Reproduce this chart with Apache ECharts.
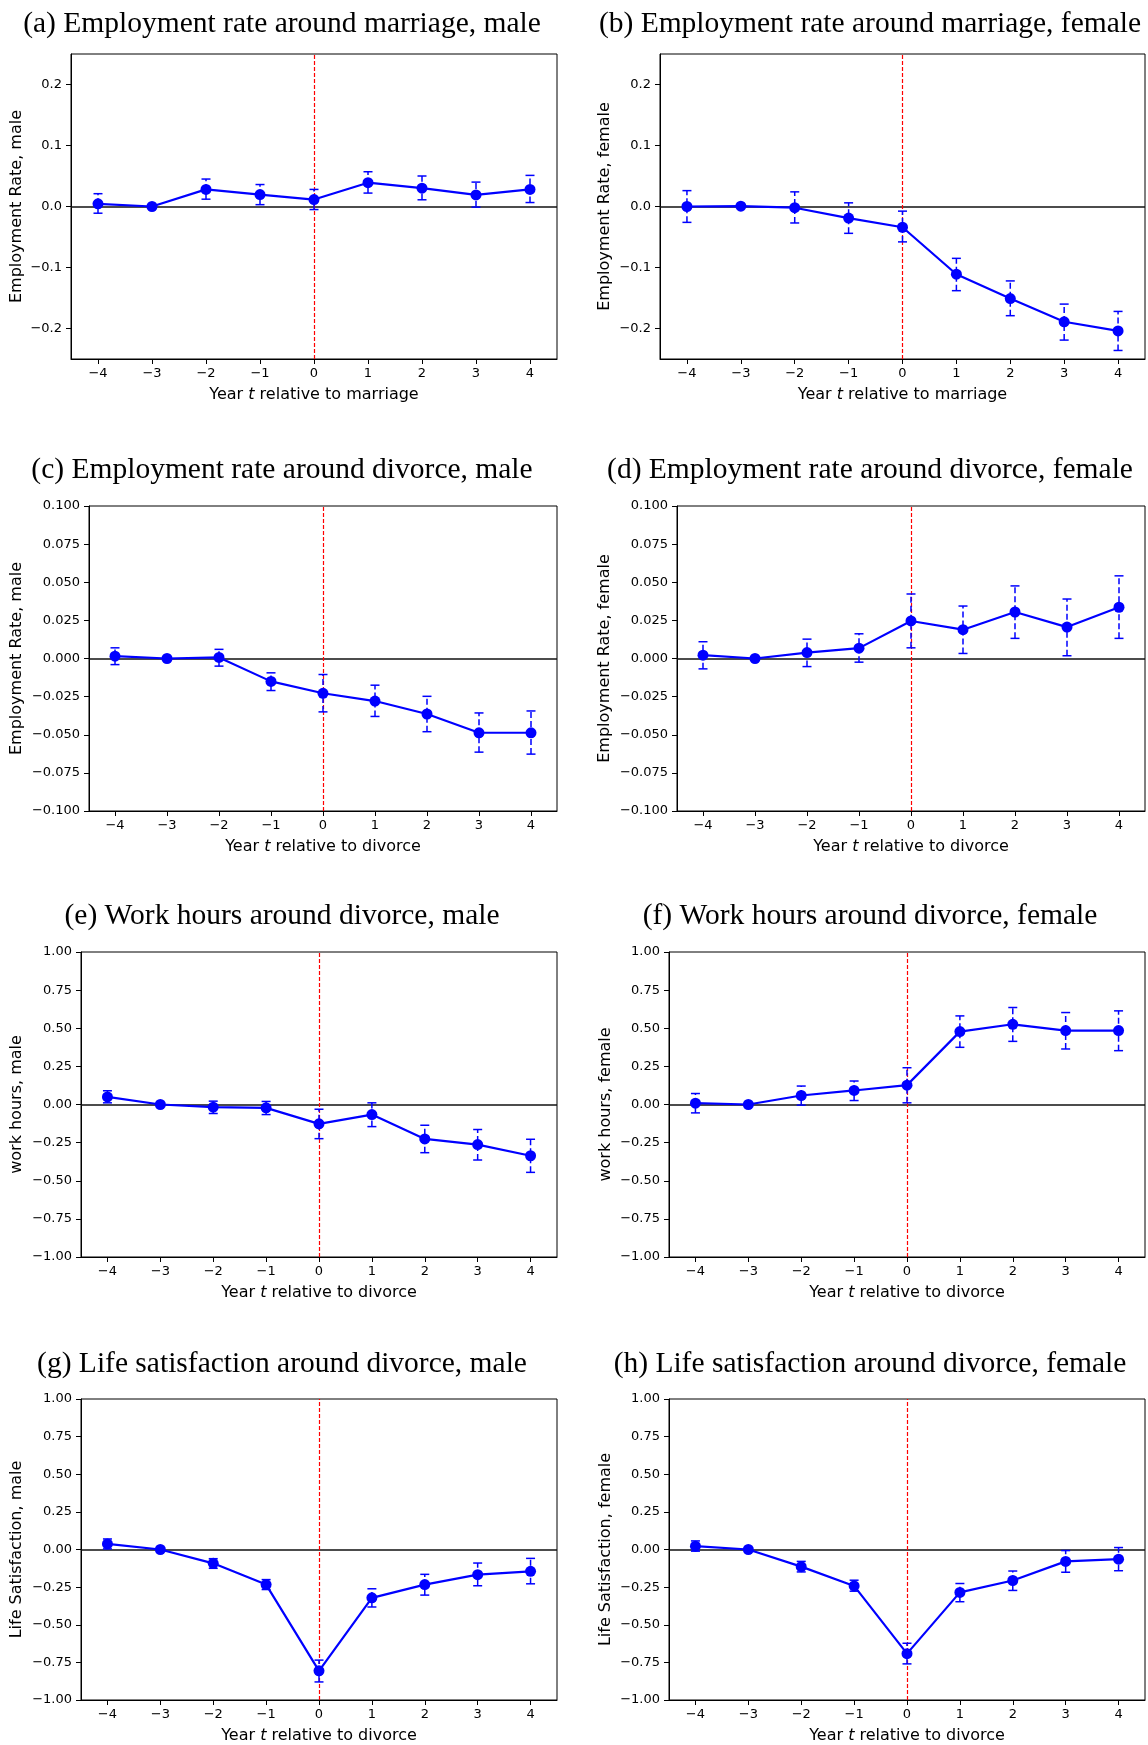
<!DOCTYPE html>
<html>
<head>
<meta charset="utf-8">
<script src="https://cdn.jsdelivr.net/npm/echarts@6/dist/echarts.min.js"></script>
<style>
  html, body { margin: 0; padding: 0; background: #fff; }
  #main { width: 1148px; height: 1745px; }
</style>
</head>
<body>
<div id="main"></div>
<script>
'use strict';

// years relative to the event
var years = [-4, -3, -2, -1, 0, 1, 2, 3, 4];

// (a) employment rate around marriage, male
var empMarMale = [0.0044, 0, 0.028, 0.0196, 0.0114, 0.039, 0.030, 0.019, 0.028];
var empMarMaleLo = [-0.011, 0, 0.012, 0.003, -0.005, 0.022, 0.011, -0.001, 0.0065];
var empMarMaleHi = [0.021, 0, 0.045, 0.036, 0.028, 0.057, 0.050, 0.040, 0.051];

// (b) employment rate around marriage, female
var empMarFem = [0.0, 0.0005, -0.002, -0.019, -0.034, -0.111, -0.151, -0.189, -0.204];
var empMarFemLo = [-0.026, 0.0005, -0.027, -0.044, -0.058, -0.138, -0.179, -0.219, -0.236];
var empMarFemHi = [0.026, 0.0005, 0.024, 0.006, -0.0076, -0.085, -0.122, -0.160, -0.172];

// (c) employment rate around divorce, male
var empDivMale = [0.0015, 0, 0.0007, -0.015, -0.0228, -0.0279, -0.0364, -0.0487, -0.0487];
var empDivMaleLo = [-0.004, 0, -0.005, -0.021, -0.035, -0.038, -0.048, -0.0614, -0.0627];
var empDivMaleHi = [0.007, 0, 0.006, -0.0094, -0.0105, -0.0175, -0.0248, -0.0357, -0.0344];

// (d) employment rate around divorce, female
var empDivFem = [0.0022, 0, 0.0039, 0.0068, 0.0246, 0.0189, 0.0305, 0.0206, 0.0336];
var empDivFemLo = [-0.0068, 0, -0.0053, -0.0024, 0.007, 0.0033, 0.0132, 0.0018, 0.0132];
var empDivFemHi = [0.011, 0, 0.0127, 0.0162, 0.0423, 0.0344, 0.0476, 0.039, 0.0542];

// (e) work hours around divorce, male
var hoursMale = [0.050, 0, -0.0175, -0.022, -0.127, -0.066, -0.226, -0.263, -0.336];
var hoursMaleLo = [0.011, 0, -0.059, -0.066, -0.224, -0.145, -0.316, -0.364, -0.445];
var hoursMaleHi = [0.090, 0, 0.022, 0.020, -0.031, 0.011, -0.136, -0.164, -0.228];

// (f) work hours around divorce, female
var hoursFem = [0.0088, 0, 0.059, 0.092, 0.127, 0.478, 0.526, 0.485, 0.485];
var hoursFemLo = [-0.055, 0, -0.004, 0.026, 0.011, 0.375, 0.414, 0.364, 0.353];
var hoursFemHi = [0.072, 0, 0.121, 0.154, 0.241, 0.581, 0.636, 0.603, 0.614];

// (g) life satisfaction around divorce, male
var lifeMale = [0.037, 0, -0.092, -0.233, -0.806, -0.321, -0.233, -0.167, -0.145];
var lifeMaleLo = [0.004, 0, -0.125, -0.266, -0.880, -0.382, -0.303, -0.241, -0.228];
var lifeMaleHi = [0.070, 0, -0.061, -0.200, -0.735, -0.261, -0.165, -0.090, -0.059];

// (h) life satisfaction around divorce, female
var lifeFem = [0.022, 0, -0.114, -0.242, -0.692, -0.285, -0.206, -0.079, -0.064];
var lifeFemLo = [-0.011, 0, -0.149, -0.277, -0.760, -0.347, -0.272, -0.151, -0.141];
var lifeFemHi = [0.057, 0, -0.079, -0.204, -0.623, -0.226, -0.143, -0.007, 0.013];

// tick labels
var tickSmall = [-0.2, -0.1, 0, 0.1, 0.2];

var titles = [
    '(a) Employment rate around marriage, male',
    '(b) Employment rate around marriage, female',
    '(c) Employment rate around divorce, male',
    '(d) Employment rate around divorce, female',
    '(e) Work hours around divorce, male',
    '(f) Work hours around divorce, female',
    '(g) Life satisfaction around divorce, male',
    '(h) Life satisfaction around divorce, female'
];
var yNames = [
    'Employment Rate, male', 'Employment Rate, female',
    'Employment Rate, male', 'Employment Rate, female',
    'work hours, male', 'work hours, female',
    'Life Satisfaction, male', 'Life Satisfaction, female'
];
var events = ['marriage', 'marriage', 'divorce', 'divorce', 'divorce', 'divorce', 'divorce', 'divorce'];

var means = [empMarMale, empMarFem, empDivMale, empDivFem, hoursMale, hoursFem, lifeMale, lifeFem];
var lows = [empMarMaleLo, empMarFemLo, empDivMaleLo, empDivFemLo, hoursMaleLo, hoursFemLo, lifeMaleLo, lifeFemLo];
var highs = [empMarMaleHi, empMarFemHi, empDivMaleHi, empDivFemHi, hoursMaleHi, hoursFemHi, lifeMaleHi, lifeFemHi];

// layout of the 8 panels (pixels)
var rowTop = [54, 506, 952, 1399];
var rowTitleY = [24, 470, 916, 1364];
var plotH = 305;
var lefts = [71, 660, 89, 677, 81, 669, 81, 669];
var widths = [486, 485, 468, 468, 476, 476, 476, 476];
var nameGaps = [46, 47, 64, 64, 56, 55, 56, 55];
var titleX = [282, 870];

var BLUE = '#0000ff';
var SANS = 'DejaVu Sans';

function fmt(dec) {
    return function (v) {
        var s = Math.abs(v).toFixed(dec);
        return (v < -1e-9 ? '\u2212' : '') + s;
    };
}

function renderErr(params, api) {
    var x = api.value(0), lo = api.value(1), hi = api.value(2);
    if (lo === hi) {
        return;
    }
    var p1 = api.coord([x, lo]);
    var p2 = api.coord([x, hi]);
    var cap = 4.5;
    return {
        type: 'group',
        children: [
            { type: 'line', shape: { x1: p1[0], y1: p1[1], x2: p2[0], y2: p2[1] },
              style: { stroke: BLUE, lineWidth: 1.5, lineDash: [6, 3] } },
            { type: 'line', shape: { x1: p1[0] - cap, y1: p1[1], x2: p1[0] + cap, y2: p1[1] },
              style: { stroke: BLUE, lineWidth: 1.5 } },
            { type: 'line', shape: { x1: p2[0] - cap, y1: p2[1], x2: p2[0] + cap, y2: p2[1] },
              style: { stroke: BLUE, lineWidth: 1.5 } }
        ]
    };
}

var grid = [], xAxis = [], yAxis = [], series = [], graphic = [];

for (var i = 0; i < 8; i++) {
    var row = Math.floor(i / 2), col = i % 2;
    grid.push({
        left: lefts[i], top: rowTop[row], width: widths[i], height: plotH,
        show: true, borderColor: '#000', borderWidth: 1, backgroundColor: '#fff'
    });

    xAxis.push({
        gridIndex: i, type: 'value', min: -4.5, max: 4.5,
        splitLine: { show: false },
        axisLine: { show: true, onZero: false, lineStyle: { color: '#000', width: 1 } },
        axisTick: { show: true, length: 5, lineStyle: { color: '#000' }, customValues: years },
        axisLabel: { color: '#000', fontFamily: SANS, fontSize: 13, margin: 8,
                     customValues: years, formatter: fmt(0) },
        name: '{n|Year }{i|t}{n| relative to ' + events[i] + '}',
        nameLocation: 'middle', nameGap: 28,
        nameTextStyle: {
            color: '#000', fontFamily: SANS, fontSize: 16,
            rich: {
                n: { fontFamily: SANS, fontSize: 16, color: '#000' },
                i: { fontFamily: SANS, fontSize: 16, color: '#000', fontStyle: 'italic' }
            }
        }
    });

    var y = {
        gridIndex: i, type: 'value',
        splitLine: { show: false },
        axisLine: { show: true, onZero: false, lineStyle: { color: '#000', width: 1 } },
        axisTick: { show: true, length: 5, lineStyle: { color: '#000' } },
        axisLabel: { color: '#000', fontFamily: SANS, fontSize: 13, margin: 9 },
        name: yNames[i], nameLocation: 'middle', nameRotate: 90, nameGap: nameGaps[i],
        nameTextStyle: { color: '#000', fontFamily: SANS, fontSize: 16 }
    };
    if (i < 2) {
        y.min = -0.25; y.max = 0.25;
        y.axisTick.customValues = tickSmall;
        y.axisLabel.customValues = tickSmall;
        y.axisLabel.formatter = fmt(1);
    } else if (i < 4) {
        y.min = -0.1; y.max = 0.1; y.interval = 0.025;
        y.axisLabel.formatter = fmt(3);
    } else {
        y.min = -1; y.max = 1; y.interval = 0.25;
        y.axisLabel.formatter = fmt(2);
    }
    yAxis.push(y);

    var pts = [], bars = [];
    for (var k = 0; k < years.length; k++) {
        pts.push([years[k], means[i][k]]);
        bars.push([years[k], lows[i][k], highs[i][k]]);
    }

    series.push({
        type: 'custom', xAxisIndex: i, yAxisIndex: i, z: 2,
        renderItem: renderErr, data: bars,
        encode: { x: 0, y: [1, 2] }, silent: true
    });
    series.push({
        type: 'line', xAxisIndex: i, yAxisIndex: i, z: 3,
        data: pts, symbol: 'circle', symbolSize: 11, showSymbol: true,
        itemStyle: { color: BLUE },
        lineStyle: { color: BLUE, width: 2.2 },
        markLine: {
            silent: true, symbol: 'none', z: 1, animation: false,
            label: { show: false },
            data: [
                { yAxis: 0, lineStyle: { color: '#111', width: 1.5, type: 'solid' } },
                { xAxis: 0, lineStyle: { color: '#ff0000', width: 1.2, type: [4, 2] } }
            ]
        }
    });

    graphic.push({
        type: 'text', x: titleX[col], y: rowTitleY[row],
        style: {
            text: titles[i], fill: '#000',
            font: '29.5px "Liberation Serif"',
            textAlign: 'center', textVerticalAlign: 'middle'
        }
    });
}

var chart = echarts.init(document.getElementById('main'), null, { renderer: 'canvas' });
chart.setOption({
    animation: false,
    backgroundColor: '#fff',
    grid: grid,
    xAxis: xAxis,
    yAxis: yAxis,
    series: series,
    graphic: graphic
});
</script>
</body>
</html>
